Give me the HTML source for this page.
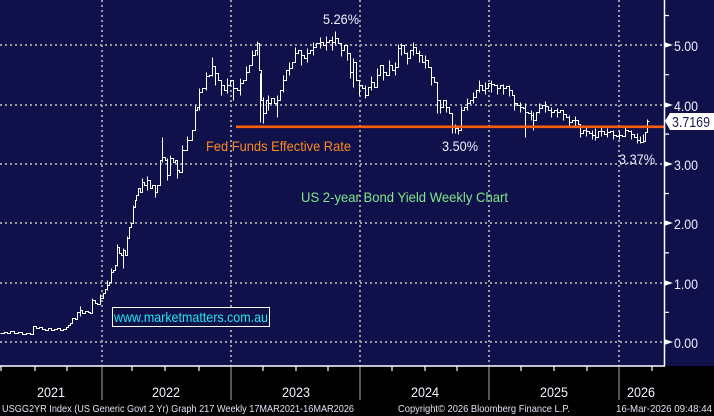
<!DOCTYPE html>
<html><head><meta charset="utf-8"><style>
html,body{margin:0;padding:0;background:#000;}
svg{display:block;}
text{font-family:"Liberation Sans",Arial,sans-serif;}
</style></head><body>
<svg width="714" height="416" viewBox="0 0 714 416" xmlns="http://www.w3.org/2000/svg">
<rect x="0" y="0" width="714" height="416" fill="#000"/>
<rect x="0" y="0" width="714" height="366" fill="#10104a"/>
<!-- grid -->
<g stroke="#9a9aa2" stroke-width="2" stroke-dasharray="2 3" fill="none">
<path d="M0 45H664M0 105H664M0 164H664M0 223H664M0 283H664M0 342H664"/>
<path d="M102 0V366M231 0V366M360 0V366M489 0V366M619 0V366"/>
</g>
<!-- series -->
<g transform="translate(0.5,0.5)" shape-rendering="crispEdges">
<path fill="none" stroke="#fff" stroke-width="1.2" d="M0 333 H4 V332 H7 V333 H10 V331 H14 V333 H18 V332 H22 V334 H26 V333 H30 V334 H33 V326 H36 V328 H39 V327 H42 V329 H45 V330 H48 V328 H51 V330 H54 V329 H57 V328 H60 V330 H63 V329 H66 V327 H68 V325 H70 V323 H72 V318 H75 V319 H77 V312 H80 V310 H82 V313 H85 V311 H88 V312 H90 V313 H92 V300 H95 V303 H97 V304 H100 V298 H103 V293 H105 V289 H107 V285 H109 V282 H111 V272 H113 V270 H115 V265 H117 V247 H119 V253 H121 V255 H123 V250 H125 V255 H127 V238 H129 V227 H131 V223 H133 V207 H135 V200 H136 V195 H138 V188 H140 V192 H142 V182 H144 V185 H147 V180 H150 V188 H152 V185 H155 V192 H157 V185 H160 V160 H162 V157 H165 V160 H167 V175 H170 V158 H173 V162 H175 V160 H177 V170 H179 V172 H182 V150 H185 V150 H187 V140 H190 V140 H192 V130 H194 V130 H195 V110 H197 V107 H199 V92 H202 V88 H204 V88 H206 V76 H209 V75 H212 V66 H215 V73 H218 V80 H221 V85 H224 V90 H227 V85 H230 V80 H233 V88 H237 V90 H240 V83 H243 V80 H246 V72 H249 V65 H252 V55 H255 V50 H257 V43 H259 V70 H261 V100 H263 V113 H266 V100 H268 V103 H271 V98 H274 V103 H277 V100 H280 V90 H283 V80 H286 V70 H289 V68 H292 V62 H295 V53 H298 V50 H301 V55 H304 V58 H307 V53 H310 V50 H313 V47 H316 V43 H320 V42 H323 V45 H326 V42 H329 V40 H332 V42 H335 V38 H338 V43 H341 V50 H344 V45 H347 V53 H350 V72 H353 V62 H356 V80 H359 V85 H362 V88 H365 V95 H368 V87 H371 V82 H374 V87 H377 V75 H380 V65 H383 V72 H386 V75 H389 V65 H392 V70 H395 V67 H398 V48 H401 V45 H404 V53 H407 V58 H410 V50 H413 V47 H416 V53 H419 V55 H422 V62 H425 V60 H428 V67 H431 V77 H434 V82 H437 V100 H440 V107 H443 V100 H446 V107 H449 V113 H452 V127 H455 V128 H458 V130 H461 V110 H464 V107 H467 V103 H470 V100 H473 V97 H476 V90 H479 V85 H482 V90 H485 V88 H488 V83 H491 V84 H494 V85 H497 V88 H500 V85 H503 V88 H506 V86 H509 V90 H512 V95 H514 V103 H517 V105 H520 V107 H523 V108 H525 V112 H528 V113 H531 V115 H533 V120 H536 V112 H539 V108 H542 V105 H545 V106 H548 V110 H551 V112 H554 V110 H557 V112 H560 V110 H563 V114 H566 V117 H569 V122 H572 V120 H575 V120 H578 V124 H580 V133 H583 V130 H586 V131 H589 V133 H592 V135 H595 V137 H598 V131 H601 V131 H604 V134 H607 V132 H610 V131 H613 V135 H616 V136 H619 V135 H622 V136 H625 V130 H628 V131 H631 V134 H634 V137 H637 V140 H640 V142 H643 V141 H645 V132 H647 V121 H649"/>
<path fill="none" stroke="#fff" stroke-width="1.2" d="M80 306V316 M92 298V312 M100 294V304 M107 280V290 M111 268V278 M117 244V266 M123 248V268 M127 236V250 M133 205V222 M142 178V192 M147 176V190 M155 185V197 M162 137V162 M167 158V180 M170 155V170 M177 163V178 M182 145V160 M187 136V150 M195 105V130 M199 88V110 M206 72V90 M212 57V76 M215 68V85 M221 80V95 M227 78V93 M233 80V100 M240 78V95 M246 66V80 M252 50V65 M257 41V55 M260 73V122 M263 97V123 M268 95V110 M277 95V117 M283 75V92 M289 62V75 M295 47V60 M301 50V65 M307 48V62 M313 42V55 M320 37V48 M326 36V50 M332 36V50 M335 31V45 M341 44V56 M347 47V60 M350 60V78 M353 58V87 M359 80V95 M365 85V98 M371 76V90 M377 68V82 M383 66V80 M389 60V75 M395 62V75 M398 44V56 M401 43V55 M407 52V64 M413 42V55 M419 50V62 M425 55V68 M431 70V85 M437 83V113 M440 100V113 M446 100V112 M452 122V133 M455 124V133 M458 126V134 M461 106V118 M467 98V110 M473 92V103 M479 80V92 M485 82V94 M491 80V92 M497 84V94 M503 84V94 M509 85V96 M514 98V110 M520 102V112 M525 103V137 M531 110V120 M533 112V130 M539 103V113 M545 101V112 M551 107V117 M557 108V117 M563 110V120 M569 115V125 M575 116V126 M580 125V137 M586 127V136 M592 130V139 M595 128V140 M601 127V136 M607 128V137 M613 130V139 M619 131V139 M625 127V136 M631 130V139 M637 133V143 M640 136V143 M643 134V142 M647 119V130"/>
</g>
<!-- fed funds line -->
<rect x="236" y="125.5" width="428" height="2.6" fill="#ff5e0e"/>
<!-- axes -->
<path d="M664.5 0V366.5 M0 366H665" stroke="#fff" stroke-width="1.5" fill="none"/>
<g stroke="#fff" stroke-width="1.2">
<path d="M664 15.5H669 M664 74.7H669 M664 134.1H669 M664 193.5H669 M664 252.9H669 M664 312.3H669"/>
<path d="M1 366V371 M35 366V371 M67 366V371 M132 366V371 M165 366V371 M199 366V371 M263 366V371 M296 366V371 M328 366V371 M392 366V371 M425 366V371 M457 366V371 M521 366V371 M554 366V371 M587 366V371 M652 366V371"/>
</g>
<g fill="#fff">
<polygon points="664,42 664,48 673,45"/>
<polygon points="664,102 664,108 673,105"/>
<polygon points="664,161 664,167 673,164"/>
<polygon points="664,220 664,226 673,223"/>
<polygon points="664,280 664,286 673,283"/>
<polygon points="664,339 664,345 673,342"/>
</g>
<g fill="#eef0ff" font-size="14">
<text x="674" y="51" textLength="24" lengthAdjust="spacingAndGlyphs">5.00</text>
<text x="674" y="111" textLength="24" lengthAdjust="spacingAndGlyphs">4.00</text>
<text x="674" y="170" textLength="24" lengthAdjust="spacingAndGlyphs">3.00</text>
<text x="674" y="229" textLength="24" lengthAdjust="spacingAndGlyphs">2.00</text>
<text x="674" y="289" textLength="24" lengthAdjust="spacingAndGlyphs">1.00</text>
<text x="674" y="348" textLength="24" lengthAdjust="spacingAndGlyphs">0.00</text>
</g>
<!-- last value box -->
<polygon points="665,121 670,113 714,113 714,130 670,130" fill="#fff"/>
<text x="672" y="127" font-size="15" fill="#1a1a50" textLength="38" lengthAdjust="spacingAndGlyphs">3.7169</text>
<!-- year separators -->
<path d="M102 367V400 M231 367V400 M360 367V400 M489 367V400 M619 367V400" stroke="#a8a8a8" stroke-width="1"/>
<g fill="#f0f2ff" font-size="14">
<text x="37" y="397" textLength="28" lengthAdjust="spacingAndGlyphs">2021</text>
<text x="152" y="397" textLength="28" lengthAdjust="spacingAndGlyphs">2022</text>
<text x="282" y="397" textLength="28" lengthAdjust="spacingAndGlyphs">2023</text>
<text x="411" y="397" textLength="28" lengthAdjust="spacingAndGlyphs">2024</text>
<text x="540" y="397" textLength="28" lengthAdjust="spacingAndGlyphs">2025</text>
<text x="627" y="397" textLength="28" lengthAdjust="spacingAndGlyphs">2026</text>
</g>
<g fill="#dfe3f0" font-size="10.5">
<text x="2" y="412" textLength="352" lengthAdjust="spacingAndGlyphs">USGG2YR Index (US Generic Govt 2 Yr) Graph 217 Weekly 17MAR2021-16MAR2026</text>
<text x="398" y="412" textLength="172" lengthAdjust="spacingAndGlyphs">Copyright© 2026 Bloomberg Finance L.P.</text>
<text x="616" y="412" textLength="96" lengthAdjust="spacingAndGlyphs">16-Mar-2026 09:48:44</text>
</g>
<!-- annotations -->
<g fill="#eef0ff" font-size="14">
<text x="323" y="24" textLength="36" lengthAdjust="spacingAndGlyphs">5.26%</text>
<text x="442" y="151" textLength="36" lengthAdjust="spacingAndGlyphs">3.50%</text>
<text x="619" y="164" textLength="36" lengthAdjust="spacingAndGlyphs">3.37%</text>
</g>
<text x="206" y="151" font-size="14" fill="#ff8a1e" textLength="145" lengthAdjust="spacingAndGlyphs">Fed Funds Effective Rate</text>
<text x="301" y="202" font-size="14" fill="#7ee88a" textLength="207" lengthAdjust="spacingAndGlyphs">US 2-year Bond Yield Weekly Chart</text>
<rect x="112.5" y="307.5" width="157" height="19" fill="#10104a" stroke="#fff" stroke-width="1"/>
<text x="114" y="322" font-size="14" fill="#1ee6ee" textLength="154" lengthAdjust="spacingAndGlyphs">www.marketmatters.com.au</text>
</svg>
</body></html>
